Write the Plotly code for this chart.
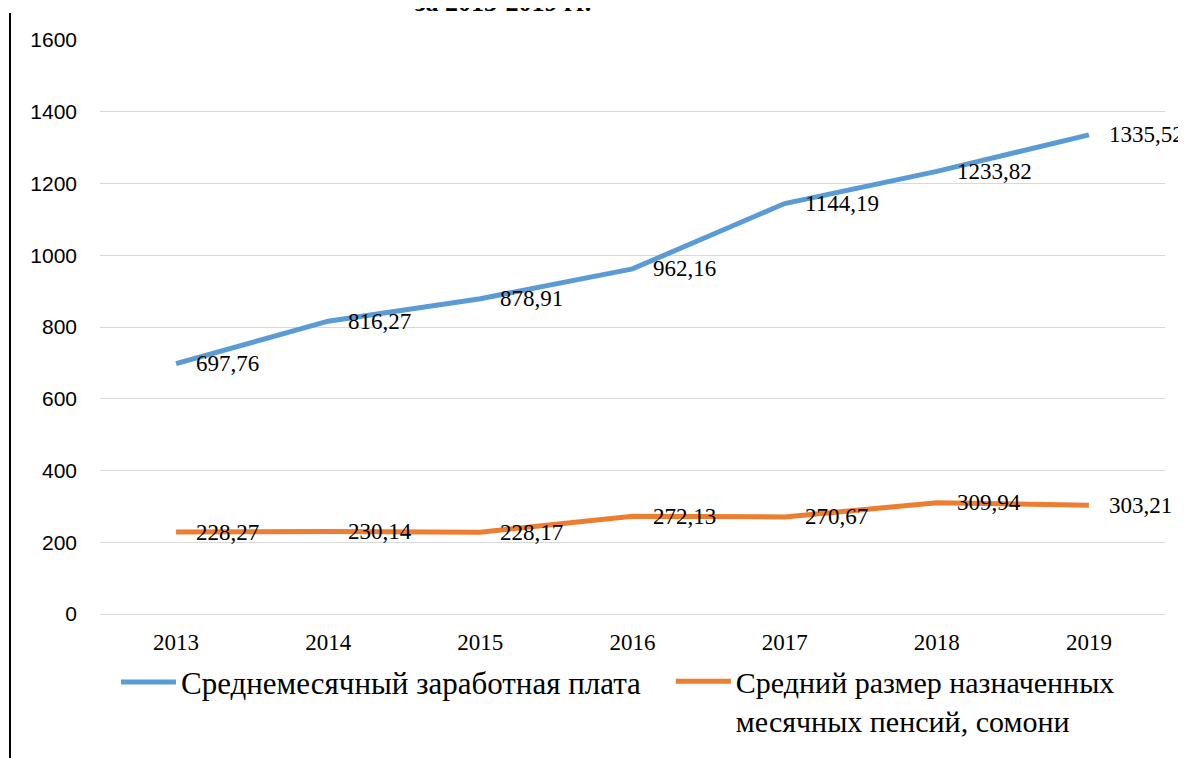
import plotly.graph_objects as go

years = ["2013", "2014", "2015", "2016", "2017", "2018", "2019"]
salary = [697.76, 816.27, 878.91, 962.16, 1144.19, 1233.82, 1335.52]
pension = [228.27, 230.14, 228.17, 272.13, 270.67, 309.94, 303.21]
salary_name = "Среднемесячный заработная плата"
pension_name = "Средний размер назначенных<br>месячных пенсий, сомони"
title_text = "за 2013-2019 гг."
y_ticks = [0, 200, 400, 600, 800, 1000, 1200, 1400, 1600]

BLUE = "#5B9BD5"
ORANGE = "#ED7D31"
SERIF = "Liberation Serif, Times New Roman, serif"
SANS = "Liberation Sans, Arial, sans-serif"

def fmt(v):
    return f"{v:.2f}".replace(".", ",")

fig = go.Figure()
fig.add_trace(go.Scatter(x=years, y=salary, mode="lines", name=salary_name,
                         line=dict(color=BLUE, width=5), legend="legend"))
fig.add_trace(go.Scatter(x=years, y=pension, mode="lines", name=pension_name,
                         line=dict(color=ORANGE, width=5), legend="legend2"))

annotations = []
for series in (salary, pension):
    for i, v in enumerate(series):
        annotations.append(dict(x=i, y=v, xref="x", yref="y", text=fmt(v),
                                showarrow=False, xanchor="left", yanchor="middle",
                                xshift=18, font=dict(family=SERIF, size=23, color="black")))

annotations.append(dict(x=0.378, y=1.066, xref="paper", yref="paper", text="<b>" + title_text + "</b>",
                        showarrow=False, xanchor="center", yanchor="middle",
                        font=dict(family=SERIF, size=26, color="black")))

legend_common = dict(orientation="h", y=-0.072, xanchor="left", yanchor="top",
                     itemwidth=55, valign="top", bgcolor="rgba(0,0,0,0)")

# The page body has an 8px default margin, so the figure is 8px smaller
fig.update_layout(
    width=1178, height=750,
    margin=dict(l=92, r=21, t=32, b=137),
    paper_bgcolor="white", plot_bgcolor="white",
    showlegend=True,
    legend=dict(x=0.015, font=dict(family=SERIF, size=31, color="black"), **legend_common),
    legend2=dict(x=0.536, font=dict(family=SERIF, size=30, color="black"), **legend_common),
    annotations=annotations,
    shapes=[dict(type="line", xref="paper", yref="paper", x0=-0.0845, x1=-0.0845,
                 y0=-0.3, y1=1.047, line=dict(color="black", width=2))],
)
fig.update_xaxes(type="category", range=[-0.5, 6.5], showgrid=False, showline=False,
                 zeroline=False, ticks="", ticklabelstandoff=12,
                 tickfont=dict(family=SERIF, size=23, color="black"))
fig.update_yaxes(range=[0, 1600], tickvals=y_ticks, showgrid=True, gridcolor="#D9D9D9",
                 gridwidth=1, zeroline=True, zerolinecolor="#D9D9D9", zerolinewidth=1,
                 showline=False, ticks="", ticklabelstandoff=22,
                 tickfont=dict(family=SANS, size=21, color="black"))

fig.write_html("out.html")
